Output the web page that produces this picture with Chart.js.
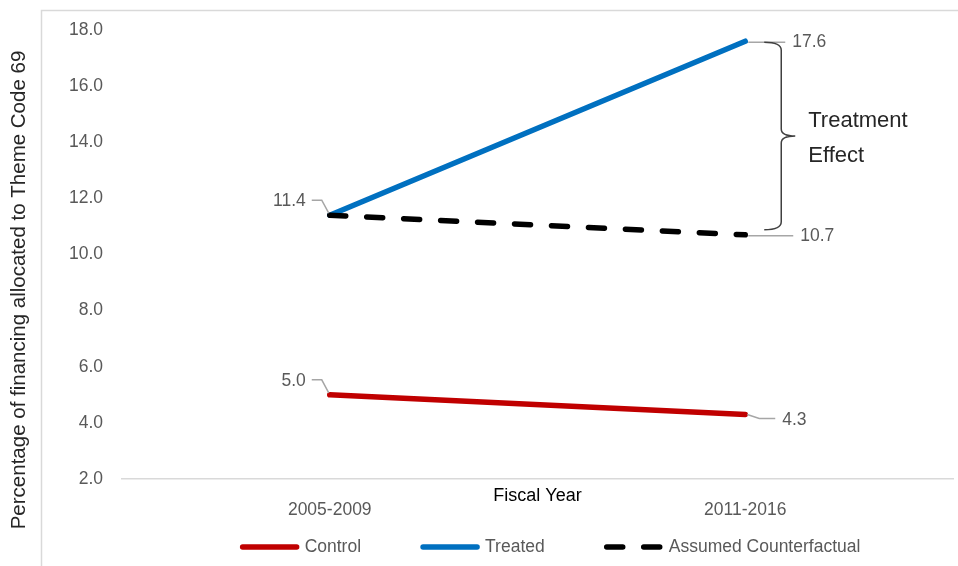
<!DOCTYPE html>
<html>
<head>
<meta charset="utf-8">
<script src="https://cdn.jsdelivr.net/npm/chart.js@4.4.1/dist/chart.umd.min.js"></script>
<style>
  html, body { margin: 0; padding: 0; background: #fff; }
  #wrap { width: 958px; height: 566px; position: relative; }
</style>
</head>
<body>
<div id="wrap"><canvas id="chart"></canvas></div>
<script>
// Data
const categories = ['2005-2009', '2011-2016'];
const controlValues = [5.0, 4.3];
const treatedValues = [11.4, 17.6];
const counterfactualValues = [11.4, 10.7];
const yTickMin = 2;
const yTickMax = 18;
const yTickStep = 2;

const FONT = "'Liberation Sans', Arial, sans-serif";
const COLORS = {
    control: '#C00000',
    treated: '#0070C0',
    counterfactual: '#000000',
    tickText: '#595959',
    darkText: '#262626',
    axis: '#d9d9d9',
    leader: '#a6a6a6',
    brace: '#404040',
};

// Light frame round the chart (left and top edges only, as in the picture)
const framePlugin = {
    id: 'frame',
    beforeDraw(chart) {
        const ctx = chart.ctx;
        ctx.save();
        ctx.strokeStyle = COLORS.axis;
        ctx.lineWidth = 1.5;
        ctx.beginPath();
        ctx.moveTo(41.5, chart.height);
        ctx.lineTo(41.5, 10.5);
        ctx.lineTo(chart.width, 10.5);
        ctx.stroke();
        ctx.restore();
    }
};

// Value labels with short grey leader lines
const valueLabelPlugin = {
    id: 'valueLabels',
    afterDatasetsDraw(chart, args, opts) {
        const ctx = chart.ctx;
        ctx.save();
        ctx.font = `17.5px ${FONT}`;
        ctx.fillStyle = COLORS.tickText;
        ctx.strokeStyle = COLORS.leader;
        ctx.lineWidth = 1.5;
        ctx.textBaseline = 'middle';
        opts.items.forEach(item => {
            const el = chart.getDatasetMeta(item.ds).data[item.i];
            const v = chart.data.datasets[item.ds].data[item.i];
            const px = el.x, py = el.y;
            const text = v.toFixed(1);
            ctx.beginPath();
            if (item.side === 'left') {
                ctx.moveTo(px - 18, py - 15);
                ctx.lineTo(px - 8, py - 15);
                ctx.lineTo(px - 1, py - 2);
                ctx.stroke();
                ctx.textAlign = 'right';
                ctx.fillText(text, px - 24, py - 14);
            } else if (item.side === 'right') {
                ctx.moveTo(px + 3, py + 1);
                ctx.lineTo(px + item.len, py + 1);
                ctx.stroke();
                ctx.textAlign = 'left';
                ctx.fillText(text, px + item.len + 7, py + 1);
            } else {
                ctx.moveTo(px + 2, py);
                ctx.lineTo(px + 14, py + 4);
                ctx.lineTo(px + 30, py + 4);
                ctx.stroke();
                ctx.textAlign = 'left';
                ctx.fillText(text, px + 37, py + 6);
            }
        });
        ctx.restore();
    }
};

// Curly brace between treated and counterfactual end points
const bracePlugin = {
    id: 'brace',
    afterDatasetsDraw(chart) {
        const ctx = chart.ctx;
        const top = chart.getDatasetMeta(1).data[1].y + 1;
        const bottom = chart.getDatasetMeta(2).data[1].y - 5;
        const px = chart.getDatasetMeta(1).data[1].x;
        const x0 = px + 19, xs = px + 36, xc = px + 50;
        const mid = (top + bottom) / 2;
        ctx.save();
        ctx.strokeStyle = COLORS.brace;
        ctx.lineWidth = 1.5;
        ctx.beginPath();
        ctx.moveTo(x0, top);
        ctx.quadraticCurveTo(xs, top, xs, top + 8);
        ctx.lineTo(xs, mid - 7);
        ctx.quadraticCurveTo(xs, mid, xc, mid);
        ctx.quadraticCurveTo(xs, mid, xs, mid + 7);
        ctx.lineTo(xs, bottom - 8);
        ctx.quadraticCurveTo(xs, bottom, x0, bottom);
        ctx.stroke();

        ctx.fillStyle = COLORS.darkText;
        ctx.font = `22px ${FONT}`;
        ctx.textAlign = 'left';
        ctx.textBaseline = 'middle';
        ctx.fillText('Treatment', px + 63, mid - 15);
        ctx.fillText('Effect', px + 63, mid + 20);
        ctx.restore();
    }
};

// Rotated y-axis title, centred on the whole picture height like the original
const yTitlePlugin = {
    id: 'yTitle',
    afterDraw(chart) {
        const ctx = chart.ctx;
        ctx.save();
        ctx.translate(19, 290);
        ctx.rotate(-Math.PI / 2);
        ctx.font = `20.5px ${FONT}`;
        ctx.fillStyle = COLORS.darkText;
        ctx.textAlign = 'center';
        ctx.textBaseline = 'middle';
        ctx.fillText('Percentage of financing allocated to Theme Code 69', 0, 0);
        ctx.restore();
    }
};

// Legend drawn along the bottom with wide gaps between entries
const legendPlugin = {
    id: 'bottomLegend',
    afterDraw(chart) {
        const ctx = chart.ctx;
        const lineLen = 60, textGap = 5, itemGap = 59, y = 547, centerX = 550;
        ctx.save();
        ctx.font = `17.5px ${FONT}`;
        const items = chart.data.datasets.map(ds => ({
            text: ds.label,
            color: ds.borderColor,
            dash: ds.borderDash || [],
            w: lineLen + textGap + ctx.measureText(ds.label).width,
        }));
        const total = items.reduce((s, it) => s + it.w, 0) + itemGap * (items.length - 1);
        let x = centerX - total / 2;
        items.forEach(it => {
            ctx.strokeStyle = it.color;
            ctx.lineWidth = 5.5;
            ctx.lineCap = 'round';
            ctx.setLineDash(it.dash);
            ctx.beginPath();
            ctx.moveTo(x + 3, y);
            ctx.lineTo(x + lineLen - 3, y);
            ctx.stroke();
            ctx.setLineDash([]);
            ctx.fillStyle = COLORS.tickText;
            ctx.textAlign = 'left';
            ctx.textBaseline = 'middle';
            ctx.fillText(it.text, x + lineLen + textGap, y);
            x += it.w + itemGap;
        });
        ctx.restore();
    }
};

const ctx = document.getElementById('chart').getContext('2d');
new Chart(ctx, {
    type: 'line',
    data: {
        labels: categories,
        datasets: [
            {
                label: 'Control',
                data: controlValues,
                borderColor: COLORS.control,
                borderWidth: 5.5,
                borderCapStyle: 'round',
                pointRadius: 0,
                order: 1,
            },
            {
                label: 'Treated',
                data: treatedValues,
                borderColor: COLORS.treated,
                borderWidth: 5.5,
                borderCapStyle: 'round',
                pointRadius: 0,
                order: 1,
            },
            {
                label: 'Assumed Counterfactual',
                data: counterfactualValues,
                borderColor: COLORS.counterfactual,
                borderWidth: 5.5,
                borderCapStyle: 'round',
                borderDash: [16, 21],
                pointRadius: 0,
                order: 0,
            }
        ]
    },
    options: {
        responsive: true,
        maintainAspectRatio: false,
        animation: false,
        layout: { padding: { left: 8, right: 5, top: 30, bottom: 37 } },
        plugins: {
            legend: { display: false },
            tooltip: { enabled: false },
            valueLabels: {
                items: [
                    { ds: 1, i: 0, side: 'left' },
                    { ds: 0, i: 0, side: 'left' },
                    { ds: 1, i: 1, side: 'right', len: 40 },
                    { ds: 2, i: 1, side: 'right', len: 48 },
                    { ds: 0, i: 1, side: 'down' },
                ]
            }
        },
        scales: {
            x: {
                offset: true,
                grid: { display: false, drawTicks: false },
                border: { display: true, color: COLORS.axis, width: 1.5 },
                ticks: {
                    color: COLORS.tickText,
                    font: { family: FONT, size: 17.5 },
                    padding: 20.5,
                },
                title: {
                    display: true,
                    text: 'Fiscal Year',
                    color: '#000000',
                    font: { family: FONT, size: 18 },
                    padding: { top: 0, bottom: 22 },
                },
                afterFit(scale) { scale.height = 50; }
            },
            y: {
                min: yTickMin,
                max: yTickMax,
                grid: { display: false, drawTicks: false },
                border: { display: false },
                ticks: {
                    stepSize: yTickStep,
                    color: COLORS.tickText,
                    font: { family: FONT, size: 17.5 },
                    padding: 19,
                    callback: (v) => Number(v).toFixed(1),
                },
                afterFit(scale) { scale.width = 114; }
            }
        }
    },
    plugins: [framePlugin, valueLabelPlugin, bracePlugin, yTitlePlugin, legendPlugin]
});
</script>
</body>
</html>
